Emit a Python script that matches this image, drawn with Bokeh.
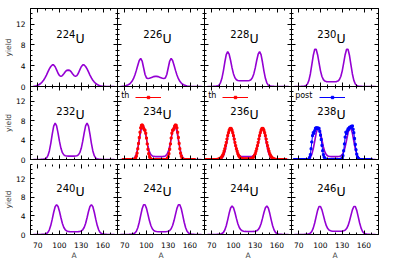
from bokeh.plotting import figure
from bokeh.layouts import gridplot
from bokeh.models import Range1d, FixedTicker, LinearAxis, Label, Legend, LegendItem
from bokeh.embed import file_html
from bokeh.resources import INLINE

# ---------------- data ----------------
mass = list(range(64, 177, 2))  # fragment mass grid for theoretical curves

yield_224 = [0.04, 0.08, 0.14, 0.24, 0.38, 0.58, 0.85, 1.2, 1.65, 2.2,
             2.8, 3.4, 3.85, 4.15, 4.15, 3.8, 3.2, 2.55, 2.1, 1.95,
             2.1, 2.45, 2.85, 3.1, 3.15, 3.1, 2.85, 2.45, 2.1, 1.95,
             2.1, 2.55, 3.2, 3.8, 4.15, 4.15, 3.85, 3.4, 2.8, 2.2,
             1.65, 1.2, 0.85, 0.58, 0.38, 0.24, 0.14, 0.08, 0.04, 0.02,
             0, 0, 0, 0, 0, 0, 0]
yield_226 = [0.01, 0.03, 0.06, 0.1, 0.17, 0.27, 0.42, 0.65, 1.0, 1.5,
             2.2, 3.1, 4.1, 5.0, 5.4, 4.9, 3.6, 2.3, 1.65, 1.55,
             1.6, 1.7, 1.8, 1.9, 1.95, 1.95, 1.9, 1.8, 1.7, 1.6,
             1.55, 1.65, 2.3, 3.6, 4.9, 5.4, 5.0, 4.1, 3.1, 2.2,
             1.5, 1.0, 0.65, 0.42, 0.27, 0.17, 0.1, 0.06, 0.03, 0.01,
             0, 0, 0, 0, 0, 0, 0]
yield_228 = [0, 0, 0, 0.01, 0.02, 0.04, 0.07, 0.11, 0.25, 0.70,
             1.57, 2.97, 4.66, 6.12, 6.7, 6.21, 5.0, 3.58, 2.42, 1.68,
             1.31, 1.17, 1.12, 1.1, 1.1, 1.1, 1.1, 1.1, 1.12, 1.17,
             1.31, 1.68, 2.42, 3.58, 5.0, 6.21, 6.7, 6.12, 4.66, 2.97,
             1.57, 0.70, 0.25, 0.11, 0.07, 0.04, 0.02, 0.01, 0, 0,
             0, 0, 0, 0, 0, 0, 0]
yield_230 = [0, 0, 0, 0, 0.01, 0.03, 0.05, 0.09, 0.19, 0.47,
             1.17, 2.41, 4.15, 5.96, 7.14, 7.16, 6.12, 4.54, 3.01, 1.92,
             1.32, 1.04, 0.94, 0.9, 0.9, 0.9, 0.9, 0.9, 0.9, 0.94,
             1.04, 1.32, 1.92, 3.01, 4.54, 6.12, 7.16, 7.14, 5.96, 4.15,
             2.41, 1.17, 0.47, 0.19, 0.09, 0.05, 0.03, 0.01, 0, 0,
             0, 0, 0, 0, 0, 0, 0]
yield_232 = [0, 0, 0, 0, 0.01, 0.02, 0.04, 0.07, 0.12, 0.29,
             0.78, 1.76, 3.32, 5.22, 6.85, 7.5, 6.91, 5.43, 3.71, 2.3,
             1.41, 0.96, 0.78, 0.72, 0.7, 0.7, 0.7, 0.7, 0.7, 0.72,
             0.78, 0.96, 1.41, 2.3, 3.71, 5.43, 6.91, 7.5, 6.85, 5.22,
             3.32, 1.76, 0.78, 0.29, 0.12, 0.07, 0.04, 0.02, 0.01, 0,
             0, 0, 0, 0, 0, 0, 0]
yield_234 = [0, 0, 0, 0, 0, 0.01, 0.03, 0.05, 0.09, 0.18,
             0.46, 1.12, 2.31, 3.98, 5.71, 6.85, 6.86, 5.82, 4.24, 2.71,
             1.62, 1.02, 0.74, 0.64, 0.6, 0.6, 0.6, 0.6, 0.6, 0.6,
             0.64, 0.74, 1.02, 1.62, 2.71, 4.24, 5.82, 6.86, 6.85, 5.71,
             3.98, 2.31, 1.12, 0.46, 0.18, 0.09, 0.05, 0.03, 0.01, 0,
             0, 0, 0, 0, 0, 0, 0]
yield_236 = [0, 0, 0, 0, 0, 0.01, 0.02, 0.04, 0.07, 0.11,
             0.25, 0.69, 1.55, 2.92, 4.59, 6.03, 6.6, 6.08, 4.78, 3.26,
             2.01, 1.22, 0.83, 0.67, 0.62, 0.6, 0.6, 0.6, 0.6, 0.6,
             0.62, 0.67, 0.83, 1.22, 2.01, 3.26, 4.78, 6.08, 6.6, 6.03,
             4.59, 2.92, 1.55, 0.69, 0.25, 0.11, 0.07, 0.04, 0.02, 0.01,
             0, 0, 0, 0, 0, 0, 0]
yield_238 = [0, 0, 0, 0, 0, 0, 0.01, 0.03, 0.05, 0.09,
             0.18, 0.43, 1.06, 2.18, 3.75, 5.39, 6.45, 6.47, 5.5, 4.01,
             2.58, 1.56, 0.99, 0.73, 0.64, 0.6, 0.6, 0.6, 0.6, 0.6,
             0.6, 0.64, 0.73, 0.99, 1.56, 2.58, 4.01, 5.5, 6.47, 6.45,
             5.39, 3.75, 2.18, 1.06, 0.43, 0.18, 0.09, 0.05, 0.03, 0.01,
             0, 0, 0, 0, 0, 0, 0]
yield_240 = [0, 0, 0, 0, 0, 0.01, 0.03, 0.05, 0.11, 0.2,
             0.45, 1.0, 1.96, 3.29, 4.76, 5.95, 6.4, 5.99, 4.92, 3.58,
             2.37, 1.51, 1.01, 0.76, 0.65, 0.61, 0.6, 0.6, 0.6, 0.6,
             0.6, 0.61, 0.65, 0.76, 1.01, 1.51, 2.37, 3.58, 4.92, 5.99,
             6.4, 5.95, 4.76, 3.29, 1.96, 1.0, 0.45, 0.2, 0.11, 0.05,
             0.03, 0.01, 0, 0, 0, 0, 0]
yield_242 = [0, 0, 0, 0, 0, 0.01, 0.02, 0.04, 0.08, 0.15,
             0.32, 0.70, 1.45, 2.63, 4.10, 5.51, 6.38, 6.39, 5.6, 4.32,
             2.98, 1.92, 1.23, 0.86, 0.69, 0.63, 0.6, 0.6, 0.6, 0.6,
             0.6, 0.6, 0.63, 0.69, 0.86, 1.23, 1.92, 2.98, 4.32, 5.6,
             6.39, 6.38, 5.51, 4.10, 2.63, 1.45, 0.70, 0.32, 0.15, 0.08,
             0.04, 0.02, 0.01, 0, 0, 0, 0]
yield_244 = [0, 0, 0, 0, 0, 0, 0.01, 0.03, 0.05, 0.1,
             0.19, 0.43, 0.96, 1.87, 3.14, 4.54, 5.67, 6.1, 5.71, 4.70,
             3.45, 2.32, 1.51, 1.03, 0.80, 0.70, 0.66, 0.65, 0.65, 0.65,
             0.65, 0.65, 0.66, 0.70, 0.80, 1.03, 1.51, 2.32, 3.45, 4.70,
             5.71, 6.1, 5.67, 4.54, 3.14, 1.87, 0.96, 0.43, 0.19, 0.1,
             0.05, 0.03, 0.01, 0, 0, 0, 0]
yield_246 = [0, 0, 0, 0, 0, 0, 0.01, 0.02, 0.04, 0.08,
             0.15, 0.3, 0.65, 1.36, 2.46, 3.84, 5.17, 5.99, 6.0, 5.27,
             4.10, 2.88, 1.90, 1.28, 0.94, 0.79, 0.73, 0.7, 0.7, 0.7,
             0.7, 0.7, 0.7, 0.73, 0.79, 0.94, 1.28, 1.90, 2.88, 4.10,
             5.27, 6.0, 5.99, 5.17, 3.84, 2.46, 1.36, 0.65, 0.3, 0.15,
             0.08, 0.04, 0.02, 0.01, 0, 0, 0]

# measured ("th" = thermal, "post" = post-neutron) yields
th234_A = list(range(68, 167))
th234_y = [0, 0, 0, 0, 0, 0, 0, 0, 0, 0,
           0, 0, 0, 0, 0, 0, 0.1, 0.3, 0.7, 1.3,
           2.2, 3.3, 4.5, 5.6, 6.5, 7.0, 7.1, 6.9, 6.4, 6.1,
           6.0, 5.4, 4.4, 3.2, 2.1, 1.2, 0.6, 0.3, 0.1, 0,
           0, 0, 0, 0, 0, 0, 0, 0, 0, 0,
           0, 0, 0, 0, 0, 0, 0, 0, 0, 0,
           0.1, 0.3, 0.6, 1.2, 2.1, 3.2, 4.4, 5.4, 6.0, 6.1,
           6.4, 6.9, 7.1, 7.0, 6.5, 5.6, 4.5, 3.3, 2.2, 1.3,
           0.7, 0.3, 0.1, 0, 0, 0, 0, 0, 0, 0,
           0, 0, 0, 0, 0, 0, 0, 0, 0]
th236_A = list(range(62, 173))
th236_y = [0, 0, 0, 0, 0, 0, 0, 0, 0, 0,
           0, 0, 0, 0, 0, 0, 0.03, 0.05, 0.1, 0.15,
           0.25, 0.4, 0.6, 0.85, 1.2, 1.7, 2.2, 2.85, 3.5, 4.2,
           4.9, 5.5, 6.0, 6.3, 6.4, 6.3, 6.0, 5.5, 4.9, 4.2,
           3.5, 2.85, 2.2, 1.7, 1.2, 0.85, 0.6, 0.4, 0.3, 0.15,
           0.15, 0.12, 0.1, 0.1, 0.1, 0.1, 0.1, 0.1, 0.1, 0.1,
           0.1, 0.12, 0.15, 0.15, 0.3, 0.4, 0.6, 0.85, 1.2, 1.7,
           2.2, 2.85, 3.5, 4.2, 4.9, 5.5, 6.0, 6.3, 6.4, 6.3,
           6.0, 5.5, 4.9, 4.2, 3.5, 2.85, 2.2, 1.7, 1.2, 0.85,
           0.6, 0.4, 0.25, 0.15, 0.1, 0.05, 0.03, 0, 0, 0,
           0, 0, 0, 0, 0, 0, 0, 0, 0, 0, 0]
post238_A = list(range(64, 171))
post238_y = [0, 0, 0, 0, 0, 0, 0, 0, 0, 0,
             0, 0, 0, 0, 0, 0, 0, 0, 0, 0,
             0.1, 0.4, 1.0, 2.2, 3.6, 4.9, 5.5, 5.4, 5.9, 6.4,
             6.5, 6.4, 6.5, 6.3, 6.4, 5.8, 5.0, 4.1, 2.9, 1.8,
             1.0, 0.5, 0.2, 0.1, 0, 0, 0, 0, 0, 0,
             0, 0, 0, 0, 0, 0, 0, 0, 0, 0,
             0, 0, 0, 0, 0, 0.1, 0.3, 0.8, 1.8, 3.2,
             4.6, 5.6, 5.3, 5.9, 6.3, 6.2, 6.6, 6.5, 6.8, 6.7,
             6.9, 6.2, 5.5, 4.3, 3.1, 2.0, 1.1, 0.5, 0.2, 0.1,
             0, 0, 0, 0, 0, 0, 0, 0, 0, 0,
             0, 0, 0, 0, 0, 0, 0]

nuclei = [224, 226, 228, 230, 232, 234, 236, 238, 240, 242, 244, 246]
curves = [yield_224, yield_226, yield_228, yield_230, yield_232, yield_234,
          yield_236, yield_238, yield_240, yield_242, yield_244, yield_246]
measured = {234: ("th", th234_A, th234_y, "#ff0000"),
            236: ("th", th236_A, th236_y, "#ff0000"),
            238: ("post", post238_A, post238_y, "#0000ff")}

x_ticks = [70, 100, 130, 160]
x_minor = [60, 70, 80, 90, 100, 110, 120, 130, 140, 150, 160, 170, 180]
y_ticks = [0, 4, 8, 12]
y_minor = list(range(0, 16))

for c in curves:
    assert len(c) == len(mass)
for k, (_, a, y, _) in measured.items():
    assert len(a) == len(y), k

# ---------------- styling ----------------
FONT = "DejaVu Sans"
PURPLE = "#9400d3"
FW = 87
FH = [78, 78, 75]
OVL = 5  # overlap of stacked canvases so edge tick labels are not clipped


def add_axis(p, loc, ticks, minor, labels, line, axis_label=None):
    ax = LinearAxis(ticker=FixedTicker(ticks=ticks, minor_ticks=minor))
    ax.major_tick_in = 4
    ax.major_tick_out = 0
    ax.minor_tick_in = 2
    ax.minor_tick_out = 0
    ax.major_tick_line_color = "black"
    ax.minor_tick_line_color = "black"
    ax.axis_line_color = "black" if line else None
    if labels:
        ax.major_label_text_font = FONT
        ax.major_label_text_font_size = "7.5px"
        ax.major_label_text_line_height = 1.0
        ax.major_label_standoff = 5 if loc == "left" else 7
        ax.major_label_text_color = "black"
    else:
        ax.major_label_text_font_size = "0px"
        ax.major_label_standoff = 0
        ax.major_label_text_color = None
    if axis_label is not None:
        ax.axis_label = axis_label
        ax.axis_label_text_font = FONT
        ax.axis_label_text_font_size = "7.5px"
        ax.axis_label_text_line_height = 1.0
        ax.axis_label_text_font_style = "normal"
        ax.axis_label_standoff = 0
    p.add_layout(ax, loc)
    return ax


rows = []
for r in range(3):
    row = []
    for c in range(4):
        i = r * 4 + c
        nuc = nuclei[i]
        p = figure(frame_width=FW, frame_height=FH[r],
                   x_range=Range1d(60, 180), y_range=Range1d(0, 15),
                   x_axis_location=None, y_axis_location=None,
                   output_backend="svg", toolbar_location=None,
                   min_border_left=28 if c == 0 else 0,
                   min_border_right=2 if c == 3 else 0,
                   min_border_top=8 if r == 0 else 0,
                   min_border_bottom=OVL if r < 2 else 0)
        if r > 0:
            p.styles = {"margin-top": f"-{OVL}px"}
        p.outline_line_color = None
        p.xgrid.visible = False
        p.ygrid.visible = False
        p.background_fill_alpha = 0
        p.border_fill_alpha = 0

        add_axis(p, "below", x_ticks, x_minor, labels=(r == 2), line=True,
                 axis_label=("A" if r == 2 else None))
        add_axis(p, "left", y_ticks, y_minor, labels=(c == 0), line=True,
                 axis_label=("yield" if c == 0 else None))
        add_axis(p, "above", x_ticks, x_minor, labels=False, line=(r == 0))
        add_axis(p, "right", y_ticks, y_minor, labels=False, line=(c == 3))

        p.line(mass, curves[i], line_color=PURPLE, line_width=1.6)

        if nuc in measured:
            name, ma, my, col = measured[nuc]
            rl = p.line(ma, my, line_color=col, line_width=1)
            rp = p.scatter(ma, my, marker="square", size=2, color=col)
            p.add_layout(Label(x=65, y=13.25, text=name, text_font=FONT,
                               text_font_size="8px", text_baseline="middle",
                               text_color="black"))
            gx = 18 if name == "th" else 28
            leg = Legend(items=[LegendItem(label=" ", renderers=[rl, rp])],
                         location=(gx, FH[r] - 19), padding=0, margin=0,
                         glyph_width=26, glyph_height=6, label_standoff=0,
                         label_width=1, label_height=6,
                         label_text_font_size="1px", spacing=0,
                         border_line_color=None, background_fill_alpha=0)
            p.add_layout(leg)

        p.add_layout(Label(x=122, y=10.05, text=str(nuc), text_font=FONT,
                           text_font_size="10px", text_align="right",
                           text_baseline="alphabetic", text_color="black"))
        p.add_layout(Label(x=122, y=9.15, text="U", text_font=FONT,
                           text_font_size="12.5px", text_align="left",
                           text_baseline="alphabetic", text_color="black"))
        if r == 2:
            p.add_layout(Label(x=124, y=-4.6, text="f", text_font=FONT,
                               text_font_size="6px", text_align="left",
                               text_baseline="alphabetic", text_color="black"))
        row.append(p)
    rows.append(row)

grid = gridplot(rows, toolbar_location=None)
open("out.html", "w").write(file_html(grid, INLINE))
